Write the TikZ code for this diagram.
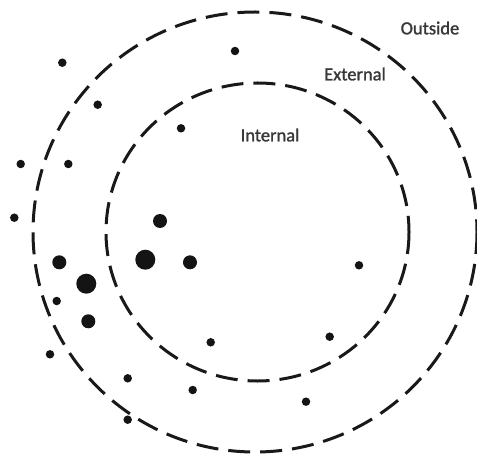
\documentclass[tikz,border=0pt]{standalone}
\usepackage{fontspec}
\setmainfont{Carlito}[FakeBold=1.4]
\begin{document}
\begin{tikzpicture}[x=1bp,y=-1bp,
  ring/.style={draw=black!90, line width=3bp, dash pattern=on 22bp off 10bp},
  lbl/.style={text=black!78, font=\fontsize{18.5bp}{20bp}\selectfont, inner sep=0pt},
  sdot/.style={circle, fill=black!92, inner sep=0pt, minimum size=8.5bp},
  mdot/.style={circle, fill=black!92, inner sep=0pt, minimum size=14bp},
  ldot/.style={circle, fill=black!92, inner sep=0pt, minimum size=20bp}]
\useasboundingbox (0,0) rectangle (477,454);
% rings
\draw[ring] (255,232) ellipse [x radius=222, y radius=220];
\draw[ring] (257.5,232) ellipse [x radius=151.5, y radius=149];
% labels
\node[lbl] (outside) at (430,28) {Outside};
\node[lbl] (external) at (355,74) {External};
\node[lbl] (internal) at (270,135) {Internal};
% small dots
\node[sdot] (s1) at (235,51) {};
\node[sdot] (s2) at (62.3,62.7) {};
\node[sdot] (s3) at (97.7,104.7) {};
\node[sdot] (s4) at (181,128.3) {};
\node[sdot] (s5) at (20.7,164) {};
\node[sdot] (s6) at (68.3,164) {};
\node[sdot] (s7) at (14.3,217.7) {};
\node[sdot] (s8) at (359,265.3) {};
\node[sdot] (s9) at (56.7,301) {};
\node[sdot] (s10) at (210.7,342.3) {};
\node[sdot] (s11) at (329.7,336.7) {};
\node[sdot] (s12) at (50,354.3) {};
\node[sdot] (s13) at (127.7,378.3) {};
\node[sdot] (s14) at (192.7,390) {};
\node[sdot] (s15) at (306,401.7) {};
\node[sdot] (s16) at (127.7,419.7) {};
% medium dots
\node[mdot] (m1) at (160,221) {};
\node[mdot] (m2) at (59.3,262.3) {};
\node[mdot] (m3) at (190,262.3) {};
\node[mdot] (m4) at (88.3,321.3) {};
% large dots
\node[ldot] (l1) at (145.3,259.7) {};
\node[ldot] (l2) at (86.3,283.7) {};
\end{tikzpicture}
\end{document}
